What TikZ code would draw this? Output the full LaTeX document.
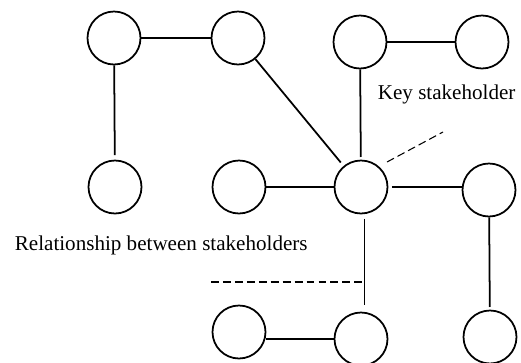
\documentclass[tikz,border=0pt]{standalone}
\usepackage{fontspec}
\setmainfont{Liberation Serif}
\usetikzlibrary{arrows}

\begin{document}
\begin{tikzpicture}[x=0.02cm, y=-0.02cm, line width=1pt,
    holder/.style={draw, circle, minimum size=1.06cm, inner sep=0pt},
    lead/.style={line width=0.6pt, dash pattern=on 4.5pt off 2.3pt},
    lbl/.style={font=\fontsize{12}{14}\selectfont, inner sep=0pt, anchor=base west}]
    \useasboundingbox (0,0) rectangle (521,362);

    % top row
    \node [holder] (t1) at (114,38) {};
    \node [holder] (t2) at (238,38) {};
    \node [holder] (t3) at (360,42) {};
    \node [holder] (t4) at (482,42) {};

    % middle row
    \node [holder] (m1)  at (115,187) {};
    \node [holder] (m2)  at (239,187) {};
    \node [holder] (key) at (361,187) {};
    \node [holder] (m4)  at (489,190) {};

    % bottom row
    \node [holder] (b2) at (239,332) {};
    \node [holder] (b3) at (361,339) {};
    \node [holder] (b4) at (490,337) {};

    % relationships
    \draw (t1) -- (t2);
    \draw [shorten >=2.5pt] (t1) -- (m1);
    \draw [shorten >=2.5pt] (t2) -- (key);
    \draw [shorten >=1.5pt] (t3) -- (key);
    \draw (t3) -- (t4);
    \draw (m2) -- (key);
    \draw [shorten <=2pt] (key.east) -- (key.east -| m4.west);
    \draw [shorten <=2.5pt, shorten >=3.5pt] ([xshift=2pt]key.south) -- ([xshift=2pt]b3.north);
    \draw [shorten >=1.5pt] (m4) -- (b4);
    \draw (b3.west) -- (b3.west -| b2.east);

    % labels
    \node [lbl] (keylbl) at (377,99) {Key stakeholder};
    \node [lbl] (rellbl) at (14,250) {Relationship between stakeholders};

    % leaders
    \coordinate (keyfoot) at (387,162);
    \coordinate (keytip)  at (443,132);
    \coordinate (relA) at (211,282);
    \coordinate (relB) at (362,282);
    \draw [lead] (keyfoot) -- (keytip);
    \draw [lead] (relA) -- (relB);
\end{tikzpicture}
\end{document}
